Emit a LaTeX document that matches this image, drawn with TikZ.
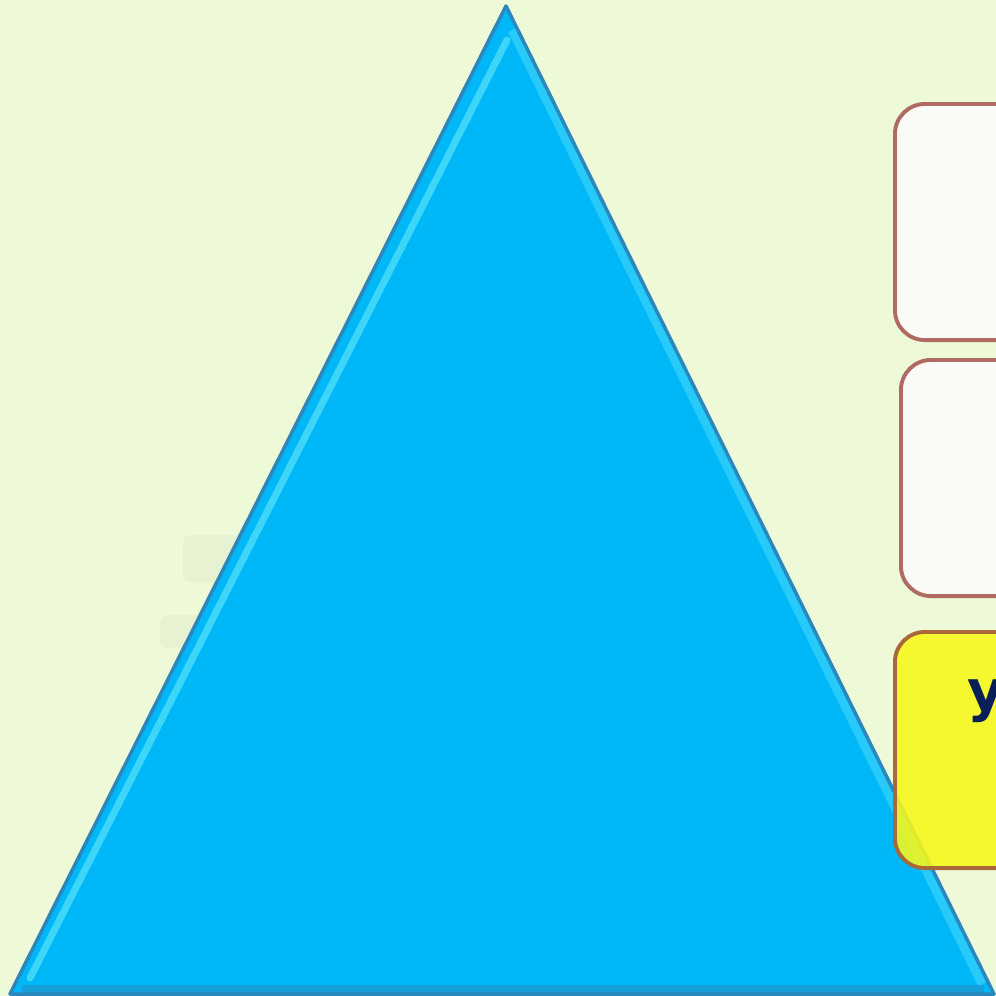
\documentclass[tikz,border=0pt]{standalone}
\usepackage{fontspec}
\newfontfamily\cyrsans{DejaVu Sans}
\definecolor{bggreen}{HTML}{EEF9D8}
\definecolor{ghost}{HTML}{E7F2D2}
\definecolor{triblue}{HTML}{00B8F8}
\definecolor{triedge}{HTML}{2C88BC}
\definecolor{trilight}{HTML}{4EDDF8}
\definecolor{boxline}{HTML}{B06A64}
\definecolor{boxfill}{HTML}{FAFAF7}
\definecolor{yelfill}{HTML}{F8F818}
\definecolor{yelline}{HTML}{A8683A}
\definecolor{navy}{HTML}{0A1E5A}

\begin{document}
\begin{tikzpicture}[x=0.01cm,y=-0.01cm,
    card/.style={draw=boxline, line width=1.1pt, rounded corners=0.3cm,
      fill=boxfill, anchor=north west, inner sep=0pt,
      minimum width=1.6cm, minimum height=2.36cm}]
      \useasboundingbox (0,0) rectangle (996,996);
      \clip (0,0) rectangle (996,996);
      \fill[bggreen] (0,0) rectangle (996,996);
      % faint shapes behind the triangle
      \fill[ghost, rounded corners=0.08cm] (183,535) rectangle (245,582);
      \fill[ghost, rounded corners=0.08cm] (160,615) rectangle (220,648);
      % triangle
      \coordinate (apex) at (506,6);
      \coordinate (bl) at (10,994);
      \coordinate (br) at (994,994);
      \fill[triblue] (apex) -- (br) -- (bl) -- cycle;
      \draw[trilight!80!triblue, line width=2pt, line cap=round] (507,40) -- (30,978);
      \draw[trilight!50!triblue, line width=2.5pt] (512,30) -- (982,984);
      \draw[triedge!50!triblue, line width=3pt] (22,990) -- (984,990);
      \draw[triedge, line width=1pt, line join=round] (apex) -- (br) -- (bl) -- cycle;
      % boxes on the right
      \node[card] (topcard) at (893,102) {};
      \node[card] (midcard) at (899,358) {};
      \node[card, fill=yelfill, draw=yelline, fill opacity=0.88] (yelcard) at (893,630) {};
      \node[anchor=base west, inner sep=0pt, text=navy,
        font=\cyrsans\bfseries\fontsize{16}{18}\selectfont] (ylabel) at (967,710) {у};
    \end{tikzpicture}
\end{document}
